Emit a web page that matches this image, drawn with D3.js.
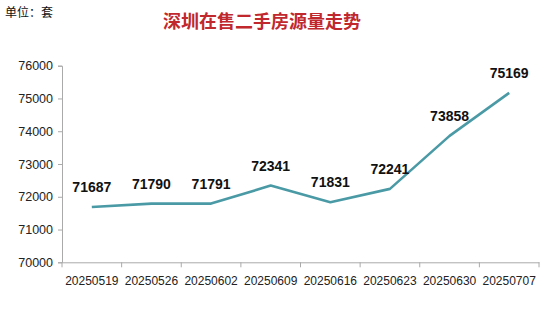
<!DOCTYPE html>
<html>
<head>
<meta charset="utf-8">
<script src="https://cdn.jsdelivr.net/npm/d3@7"></script>
<style>
  body { margin: 0; background: #fff; }
  #chart { width: 556px; height: 311px; }
  text { font-family: "Liberation Sans", Arial, sans-serif; }
</style>
</head>
<body>
<div id="chart"></div>
<script>
const dates = ["20250519","20250526","20250602","20250609","20250616","20250623","20250630","20250707"];
const listings = [71687, 71790, 71791, 72341, 71831, 72241, 73858, 75169];
const yTicks = [70000, 71000, 72000, 73000, 74000, 75000, 76000];

const width = 556, height = 311;
const margin = {left: 62, right: 17, top: 65.7, bottom: 48.7};

const svg = d3.select("#chart").append("svg")
  .attr("width", width)
  .attr("height", height);

// unit + title
svg.append("text")
  .attr("x", 5).attr("y", 17)
  .style("font-family", "'Noto Sans CJK SC', sans-serif")
  .style("font-size", "12px")
  .attr("fill", "#111")
  .text("单位：套");

svg.append("text")
  .attr("x", 262).attr("y", 28)
  .attr("text-anchor", "middle")
  .style("font-family", "'Noto Sans CJK SC', sans-serif")
  .style("font-size", "18px")
  .style("font-weight", "bold")
  .attr("fill", "#c0282e")
  .text("深圳在售二手房源量走势");

const x = d3.scaleBand()
  .domain(dates)
  .range([margin.left, width - margin.right]);

const y = d3.scaleLinear()
  .domain([70000, 76000])
  .range([height - margin.bottom, margin.top]);

// y axis
const yAxis = svg.append("g")
  .attr("transform", `translate(${margin.left},0)`)
  .call(d3.axisLeft(y).tickValues(yTicks).tickSize(4).tickPadding(5).tickFormat(d3.format("d")));
yAxis.selectAll("text").style("font-size", "12.5px").attr("fill", "#222");

// x axis, ticks at category boundaries
const xAxis = svg.append("g")
  .attr("transform", `translate(0,${height - margin.bottom})`)
  .call(d3.axisBottom(x).tickSize(0).tickPadding(14));
xAxis.selectAll("text").style("font-size", "12px").attr("fill", "#222");
xAxis.selectAll(".bound")
  .data(dates.map(d => x(d)).concat([x.range()[1]]))
  .enter().append("line")
  .attr("class", "bound")
  .attr("x1", d => d).attr("x2", d => d)
  .attr("y1", 0).attr("y2", 5)
  .attr("stroke", "#aaa");

svg.selectAll(".domain").attr("stroke", "#aaa");
yAxis.selectAll(".tick line").attr("stroke", "#aaa");

// line
const cx = d => x(d) + x.bandwidth() / 2;
const line = d3.line()
  .x((d, i) => cx(dates[i]))
  .y(d => y(d));

svg.append("path")
  .datum(listings)
  .attr("d", line)
  .attr("fill", "none")
  .attr("stroke", "#4a9aa6")
  .attr("stroke-width", 2.6)
  .attr("stroke-linejoin", "round");

// value labels
svg.selectAll("text.val")
  .data(listings)
  .enter().append("text")
  .attr("class", "val")
  .attr("x", (d, i) => cx(dates[i]))
  .attr("y", d => y(d) - 15)
  .attr("text-anchor", "middle")
  .style("font-size", "14px")
  .style("font-weight", "bold")
  .attr("fill", "#111")
  .text(d => d);
</script>
</body>
</html>
